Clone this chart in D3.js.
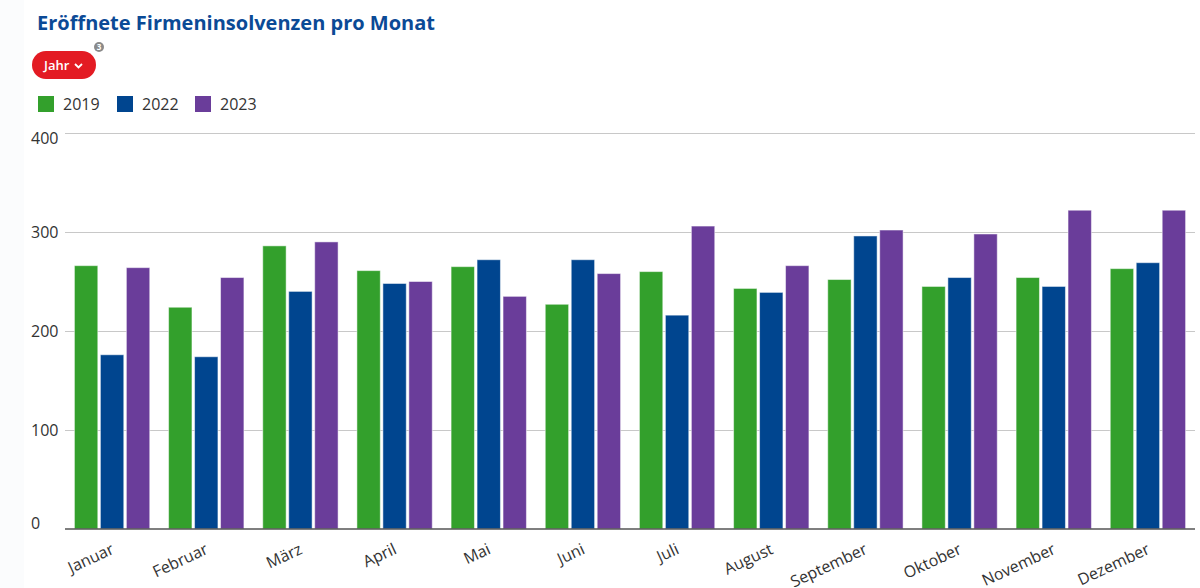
<!DOCTYPE html>
<html>
<head>
<meta charset="utf-8">
<title>Eröffnete Firmeninsolvenzen pro Monat</title>
<script src="https://d3js.org/d3.v7.min.js"></script>
<style>
    body { margin: 0; background: #fff; font-family: "Open Sans", sans-serif; overflow: hidden; }
    #chart { width: 1200px; height: 588px; }
    .grid line { stroke: #c8c8c8; stroke-width: 1; }
    .lbl { fill: #333; }
</style>
</head>
<body>
<div id="chart"></div>
<script>
const months = ["Januar", "Februar", "März", "April", "Mai", "Juni", "Juli", "August", "September", "Oktober", "November", "Dezember"];
const years = ["2019", "2022", "2023"];
const v2019 = [266, 224, 286, 261, 265, 227, 260, 243, 252, 245, 254, 263];
const v2022 = [176, 174, 240, 248, 272, 272, 216, 239, 296, 254, 245, 269];
const v2023 = [264, 254, 290, 250, 235, 258, 306, 266, 302, 298, 322, 322];
const yTicks = [0, 100, 200, 300, 400];
const colors = ["#33a02c", "#00458f", "#6a3d9a"];

const series = [v2019, v2022, v2023];
const width = 1200, height = 588;
const plotLeft = 65, plotRight = 1195, plotTop = 133, plotBottom = 529;

const svg = d3.select("#chart").append("svg")
    .attr("width", width)
    .attr("height", height);

// faint strip at the left edge
svg.append("rect").attr("x", 0).attr("y", 0).attr("width", 24).attr("height", height).attr("fill", "#fbfcfd");

// title
svg.append("text")
    .attr("x", 37).attr("y", 30)
    .attr("font-size", 20).attr("font-weight", 700)
    .attr("fill", "#0b4a96")
    .text("Eröffnete Firmeninsolvenzen pro Monat");

// "Jahr" button
const btn = svg.append("g");
btn.append("rect")
    .attr("x", 32).attr("y", 51).attr("width", 64).attr("height", 28).attr("rx", 14)
    .attr("fill", "#e31b23");
btn.append("text")
    .attr("x", 44).attr("y", 70)
    .attr("font-size", 13).attr("font-weight", 600).attr("fill", "#fff")
    .text("Jahr");
btn.append("path")
    .attr("d", "M75,64 L78.5,67.5 L82,64")
    .attr("fill", "none").attr("stroke", "#fff").attr("stroke-width", 1.8);
svg.append("circle").attr("cx", 99).attr("cy", 47).attr("r", 5).attr("fill", "#8a8a8a");
svg.append("text")
    .attr("x", 99).attr("y", 50).attr("text-anchor", "middle")
    .attr("font-size", 8).attr("font-weight", 700).attr("fill", "#fff")
    .text("3");

// legend
const legendX = [38, 117, 195];
const legend = svg.append("g").selectAll("g")
    .data(years)
    .join("g")
    .attr("transform", (d, i) => `translate(${legendX[i]},96)`);
legend.append("rect")
    .attr("width", 16).attr("height", 16)
    .attr("fill", (d, i) => colors[i]);
legend.append("text")
    .attr("class", "lbl")
    .attr("x", 25).attr("y", 14)
    .attr("font-size", 16)
    .text(d => d);

// scales
const y = d3.scaleLinear().domain([0, 400]).range([plotBottom, plotTop]);
const x0 = d3.scaleBand().domain(months).range([plotLeft, plotRight]).paddingInner(0.2).paddingOuter(0.1);
const x1 = d3.scaleBand().domain(years).range([0, x0.bandwidth()]).paddingInner(0.1);

// grid
svg.append("g")
    .attr("class", "grid")
    .attr("transform", `translate(${plotLeft},0)`)
    .call(d3.axisRight(y).tickValues(yTicks.slice(1)).tickSize(plotRight - plotLeft).tickFormat(""))
    .call(g => g.select(".domain").remove());

// y labels
const yShift = { 0: -6, 400: 5 };
svg.append("g").selectAll("text")
    .data(yTicks)
    .join("text")
    .attr("class", "lbl")
    .attr("x", 31)
    .attr("y", d => y(d) + (yShift[d] || 0))
    .attr("dy", "0.35em")
    .attr("font-size", 16)
    .text(d => d);

// bars
const groups = svg.append("g").selectAll("g")
    .data(months)
    .join("g")
    .attr("transform", d => `translate(${x0(d)},0)`);
groups.selectAll("rect")
    .data((m, i) => years.map((yr, k) => ({ yr, k, v: series[k][i] })))
    .join("rect")
    .attr("x", d => x1(d.yr))
    .attr("y", d => y(d.v))
    .attr("width", x1.bandwidth())
    .attr("height", d => y(0) - y(d.v))
    .attr("fill", d => colors[d.k])
    .attr("stroke", "#fff")
    .attr("stroke-opacity", 0.5)
    .attr("stroke-width", 1);

// x axis
const xAxis = svg.append("g")
    .attr("transform", `translate(0,${plotBottom})`)
    .call(d3.axisBottom(x0).tickSize(0).tickPadding(0));
xAxis.select(".domain")
    .attr("d", `M${plotLeft},0H${plotRight}`)
    .attr("stroke", "#555").attr("stroke-width", 1.5);
xAxis.selectAll(".tick text")
    .attr("class", "lbl")
    .attr("font-family", "Open Sans, sans-serif")
    .attr("font-size", 16)
    .attr("text-anchor", "end")
    .attr("dy", 0)
    .attr("y", 0)
    .attr("transform", "translate(3,24) rotate(-25)");
</script>
</body>
</html>
